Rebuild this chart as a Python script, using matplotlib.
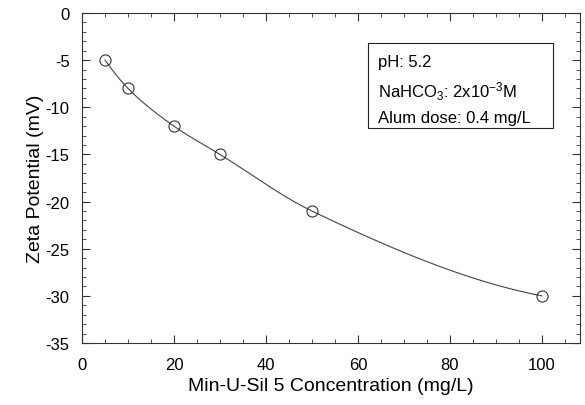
import numpy as np
import matplotlib
matplotlib.use("Agg")
import matplotlib.pyplot as plt
from matplotlib.ticker import MultipleLocator
from matplotlib.patches import Rectangle

plt.rcParams['font.family'] = ['Liberation Sans', 'DejaVu Sans']
plt.rcParams['axes.unicode_minus'] = False
plt.rcParams['mathtext.fontset'] = 'custom'
plt.rcParams['mathtext.rm'] = 'Liberation Sans'
plt.rcParams['mathtext.it'] = 'Liberation Sans:italic'

conc = [5, 10, 20, 30, 50, 100]
zeta = [-5, -8, -12, -15, -21, -30]

def pchip(x, y, xs):
    x = np.asarray(x, float); y = np.asarray(y, float)
    h = np.diff(x); delta = np.diff(y) / h
    n = len(x)
    d = np.zeros(n)
    for k in range(1, n - 1):
        if delta[k - 1] * delta[k] > 0:
            w1 = 2 * h[k] + h[k - 1]; w2 = h[k] + 2 * h[k - 1]
            d[k] = (w1 + w2) / (w1 / delta[k - 1] + w2 / delta[k])
    d[0] = ((2 * h[0] + h[1]) * delta[0] - h[0] * delta[1]) / (h[0] + h[1])
    d[-1] = ((2 * h[-1] + h[-2]) * delta[-1] - h[-1] * delta[-2]) / (h[-1] + h[-2])
    out = np.empty_like(xs)
    for j, xv in enumerate(xs):
        i = min(max(np.searchsorted(x, xv) - 1, 0), n - 2)
        t = (xv - x[i]) / h[i]
        h00 = 2*t**3 - 3*t**2 + 1; h10 = t**3 - 2*t**2 + t
        h01 = -2*t**3 + 3*t**2; h11 = t**3 - t**2
        out[j] = h00*y[i] + h10*h[i]*d[i] + h01*y[i+1] + h11*h[i]*d[i+1]
    return out

fig = plt.figure(figsize=(5.85, 4.06), dpi=100)
ax = fig.add_axes([82/585, 62/406, (580-82)/585, (344-14)/406])

xs = np.linspace(conc[0], conc[-1], 400)
ax.plot(xs, pchip(conc, zeta, xs), color='#444444', lw=0.8)
ax.plot(conc, zeta, 'o', mfc='none', mec='#333333', ms=8, mew=0.8)

ax.set_xlim(0, 108.3)
ax.set_ylim(-35, 0)
ax.xaxis.set_major_locator(MultipleLocator(20))
ax.xaxis.set_minor_locator(MultipleLocator(5))
ax.yaxis.set_major_locator(MultipleLocator(5))
ax.yaxis.set_minor_locator(MultipleLocator(1))
ax.tick_params(which='both', direction='in', top=True, right=True, labelsize=12, color='#333333')
ax.tick_params(which='major', length=6, width=0.8)
ax.tick_params(axis='x', which='major', pad=10)
ax.tick_params(axis='y', which='major', pad=9)
ax.tick_params(which='minor', length=3, width=0.6)
for s in ax.spines.values():
    s.set_linewidth(0.8)
    s.set_color('#333333')

ax.set_xlabel('Min-U-Sil 5 Concentration (mg/L)', fontsize=14, labelpad=4)
ax.set_ylabel('Zeta Potential (mV)', fontsize=14, labelpad=1)

fig.patches.append(Rectangle((368/585, 1-129/406), (553-368)/585, (129-44)/406,
                             transform=fig.transFigure, fill=False, ec='#222222', lw=0.8))
fig.text(378/585, 1-67/406, 'pH: 5.2', fontsize=12, va='baseline')
fig.text(378/585, 1-98/406, r'NaHCO$_3$: 2x10$^{-3}$M', fontsize=12, va='baseline')
fig.text(378/585, 1-123/406, 'Alum dose: 0.4 mg/L', fontsize=12, va='baseline')

fig.savefig('out.png', dpi=100)
